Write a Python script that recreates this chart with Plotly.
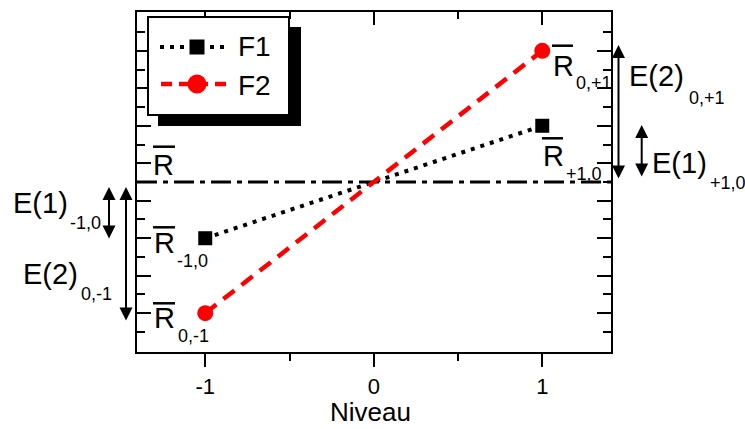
import plotly.graph_objects as go

# ---------------- data ----------------
niveau = [-1, 1]
f1_values = [-3, 3]
f2_values = [-7, 7]
r_mean = 0
series_names = ["F1", "F2"]
x_title = "Niveau"
x_tick_vals = [-1, 0, 1]
x_tick_text = ["-1", "0", "1"]
x_minor_vals = [-0.5, 0.5]
y_major_vals = [-7, -5, -3, -1, 1, 3, 5, 7]
y_minor_vals = [-8, -6, -4, -2, 0, 2, 4, 6, 8]

# ---------------- layout helpers ----------------
FW, FH = 745, 429
ML, MR, MT, MB = 137, 134, 12, 77
PW = FW - ML - MR
PH = FH - MT - MB
FONT = "Liberation Sans, Arial, Helvetica, sans-serif"


def px(x):
    return (x - ML) / PW


def py(y):
    return (FH - MB - y) / PH


fig = go.Figure()

fig.add_trace(go.Scatter(
    x=niveau, y=f1_values, mode="lines+markers", name=series_names[0],
    line=dict(color="black", width=4, dash="4px,6px"),
    marker=dict(symbol="square", size=14, color="black"),
    showlegend=False, cliponaxis=False, hoverinfo="skip"))
fig.add_trace(go.Scatter(
    x=niveau, y=f2_values, mode="lines+markers", name=series_names[1],
    line=dict(color="#ff0000", width=4.5, dash="14px,9px"),
    marker=dict(symbol="circle", size=16, color="#ff0000"),
    showlegend=False, cliponaxis=False, hoverinfo="skip"))
# empty trace so the top (mirror) axis subplot exists
fig.add_trace(go.Scatter(x=[], y=[], xaxis="x2", yaxis="y", showlegend=False))

shapes = []
# mean line
shapes.append(dict(type="line", xref="x domain", yref="y", x0=0, x1=1, y0=r_mean, y1=r_mean,
                   line=dict(color="black", width=3, dash="20px,6px,5px,6px"), layer="below"))

# legend (shadow + box + samples)
shapes.append(dict(type="rect", xref="paper", yref="paper", x0=px(158), x1=px(301), y0=py(126), y1=py(27),
                   fillcolor="black", line=dict(width=0)))
shapes.append(dict(type="rect", xref="paper", yref="paper", x0=px(148), x1=px(289), y0=py(115), y1=py(17),
                   fillcolor="white", line=dict(color="black", width=2)))
shapes.append(dict(type="line", xref="paper", yref="paper", x0=px(160), x1=px(226), y0=py(47), y1=py(47),
                   line=dict(color="black", width=4, dash="4px,6px")))
shapes.append(dict(type="rect", xref="paper", yref="paper", x0=px(189.5), x1=px(204.5), y0=py(54.5), y1=py(39.5),
                   fillcolor="black", line=dict(width=0)))
shapes.append(dict(type="line", xref="paper", yref="paper", x0=px(161), x1=px(233), y0=py(84), y1=py(84),
                   line=dict(color="#ff0000", width=4.5, dash="11px,7px")))
shapes.append(dict(type="circle", xref="paper", yref="paper", x0=px(187.5), x1=px(206.5), y0=py(93.5), y1=py(74.5),
                   fillcolor="#ff0000", line=dict(width=0)))

# overbars for R labels
for x0, x1, yb in [(552, 573, 45.7), (542, 563, 138.3), (153, 175, 227.3), (153, 175, 303.3), (153, 175, 146.7)]:
    shapes.append(dict(type="line", xref="paper", yref="paper", x0=px(x0), x1=px(x1), y0=py(yb), y1=py(yb),
                       line=dict(color="black", width=2.5)))

annotations = []


def label(xl, yc, text, size, anchor="left"):
    annotations.append(dict(x=px(xl), y=py(yc), xref="paper", yref="paper", xanchor=anchor, yanchor="middle",
                            text=text, showarrow=False, font=dict(size=size, family=FONT, color="black")))


MAIN, SUB = 29, 18
# x axis title
label(370, 412, x_title, 26, anchor="center")
# legend texts
label(236, 46.5, series_names[0], 28)
label(236, 85, series_names[1], 28)
# R labels
label(551, 66, "R", MAIN); label(574, 83, "0,+1", SUB)
label(541, 156, "R", MAIN); label(564, 174, "+1,0", SUB)
label(152, 242.5, "R", MAIN); label(175, 261, "-1,0", SUB)
label(152, 318, "R", MAIN); label(176, 336, "0,-1", SUB)
label(151, 165, "R", MAIN)
# E labels
label(627, 76, "E(2)", MAIN); label(687, 97.5, "0,+1", SUB)
label(650, 162.5, "E(1)", MAIN); label(708, 183, "+1,0", SUB)
label(11, 203.3, "E(1)", MAIN); label(68, 222.5, "-1,0", SUB)
label(20.5, 274, "E(2)", MAIN); label(79, 294, "0,-1", SUB)

# double-headed arrows
for xa, yt, yb in [(618.5, 45, 180), (641.7, 125, 178), (109, 187, 240), (126, 187, 322)]:
    annotations.append(dict(x=px(xa), y=py(yt), xref="paper", yref="paper", ax=0, ay=yb - yt,
                            axref="pixel", ayref="pixel", text="", showarrow=True,
                            arrowside="end+start", arrowhead=2, startarrowhead=2,
                            arrowsize=1.3, startarrowsize=1.3, arrowwidth=2, arrowcolor="black",
                            standoff=0, startstandoff=0))

axis_common = dict(showgrid=False, zeroline=False, tickcolor="black", tickwidth=2, automargin=False)

fig.update_layout(
    width=FW, height=FH,
    margin=dict(l=ML, r=MR, t=MT, b=MB, pad=0, autoexpand=False),
    paper_bgcolor="white", plot_bgcolor="white",
    showlegend=False,
    font=dict(family=FONT, color="black"),
    shapes=shapes, annotations=annotations,
    xaxis=dict(range=[-1.405, 1.408], tickmode="array", tickvals=x_tick_vals, ticktext=x_tick_text,
               ticks="outside", ticklen=13, showline=True, linecolor="black", linewidth=2, mirror=True,
               tickfont=dict(size=22, family=FONT, color="black"), ticklabelstandoff=1,
               minor=dict(tickmode="array", tickvals=x_minor_vals, ticks="outside", ticklen=7,
                          tickwidth=2, tickcolor="black", showgrid=False),
               **axis_common),
    xaxis2=dict(range=[-1.405, 1.408], overlaying="x", side="top", anchor="y", tickmode="array",
                tickvals=x_tick_vals, showticklabels=False, ticks="inside", ticklen=13, showline=False,
                minor=dict(tickmode="array", tickvals=x_minor_vals, ticks="inside", ticklen=7,
                           tickwidth=2, tickcolor="black", showgrid=False),
                **axis_common),
    yaxis=dict(range=[-9.07, 9.07], tickmode="array", tickvals=y_major_vals, showticklabels=False,
               ticks="inside", ticklen=14, showline=True, linecolor="black", linewidth=2, mirror="ticks",
               minor=dict(tickmode="array", tickvals=y_minor_vals, ticks="inside", ticklen=8,
                          tickwidth=2, tickcolor="black", showgrid=False),
               **axis_common),
)

fig.write_html("out.html", config={"displayModeBar": False},
               post_script="document.body.style.margin='0px';document.body.style.overflow='hidden';")
